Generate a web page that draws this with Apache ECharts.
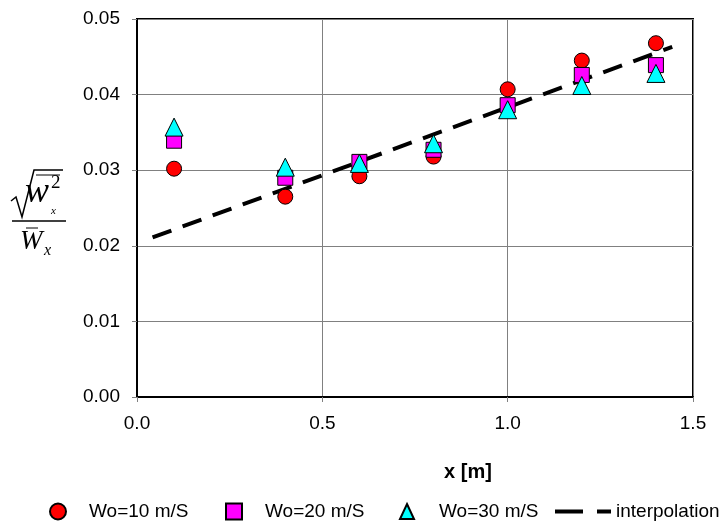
<!DOCTYPE html>
<html><head><meta charset="utf-8">
<script src="https://cdn.jsdelivr.net/npm/echarts@6/dist/echarts.min.js"></script>
<style>html,body{margin:0;padding:0;background:#fff}#c{width:724px;height:525px}</style>
</head><body><div id="c"></div>
<script>
var xPositions = [0.1, 0.4, 0.6, 0.8, 1.0, 1.2, 1.4];
var w10 = [0.0302, 0.0265, 0.0292, 0.0318, 0.0407, 0.0445, 0.0468];
var w20 = [0.0339, 0.0290, 0.0311, 0.0327, 0.0386, 0.0426, 0.0439];
var w30 = [0.0357, 0.0304, 0.0309, 0.0335, 0.0380, 0.0412, 0.0428];
var interpX = [0.042, 1.444];
var interpY = [0.0211, 0.0463];
var xTicks = [0, 0.5, 1.0, 1.5];
var yTicks = [0, 0.01, 0.02, 0.03, 0.04, 0.05];
var names = ['Wo=10 m/S', 'Wo=20 m/S', 'Wo=30 m/S', 'interpolation'];

function pairs(xs, ys){ return xs.map(function(x,i){ return [x, ys[i]]; }); }

var chart = echarts.init(document.getElementById('c'), null, {renderer:'canvas'});
var FF = 'Arial, "Liberation Sans", sans-serif';
var lf = {fontFamily:FF, fontSize:19, color:'#000'};
function leg(name, left, pad, extra){
  var l = {data:[Object.assign({name:name}, extra||{})], left:left, top:502, itemGap:0, selectedMode:false, padding:0,
    textStyle:{fontFamily:FF, fontSize:19, color:'#000', padding:[0,0,0,pad]}, itemWidth:16, itemHeight:16};
  return l;
}
var option = {
  animation:false,
  backgroundColor:'#fff',
  grid:{left:137, right:31, top:19, bottom:128, show:true, borderColor:'#000', borderWidth:2, backgroundColor:'transparent'},
  xAxis:{type:'value', min:xTicks[0], max:xTicks[xTicks.length-1], interval:0.5,
    axisLine:{show:true, onZero:false, lineStyle:{color:'#000', width:2}},
    axisTick:{show:true, length:5, lineStyle:{color:'#808080'}},
    splitLine:{show:true, lineStyle:{color:'#808080', width:1}},
    axisLabel:Object.assign({}, lf, {margin:17, formatter:function(v){return v.toFixed(1);}}),
    name:'x [m]', nameLocation:'middle', nameGap:65,
    nameTextStyle:{fontFamily:FF, fontSize:20, fontWeight:'bold', color:'#000', padding:[0,0,0,106]}
  },
  yAxis:{type:'value', min:yTicks[0], max:yTicks[yTicks.length-1], interval:0.01,
    axisLine:{show:true, onZero:false, lineStyle:{color:'#000', width:2}},
    axisTick:{show:true, length:5, lineStyle:{color:'#808080'}},
    splitLine:{show:true, lineStyle:{color:'#808080', width:1}},
    axisLabel:Object.assign({}, lf, {margin:17, formatter:function(v){return v.toFixed(2);}})
  },
  legend:[
    leg(names[0], 49, 18),
    leg(names[1], 225, 18),
    Object.assign(leg(names[2], 399, 20), {itemWidth:14, itemHeight:15}),
    Object.assign(leg(names[3], 555, 0, {icon:'path://M0,0 h28 v4 h-28 Z M42,0 h14 v4 h-14 Z', itemStyle:{color:'#000', borderWidth:0}}), {itemWidth:56, itemHeight:4})
  ],
  series:[
    {name:names[3], type:'line', data:pairs(interpX, interpY), symbol:'none', z:1,
      lineStyle:{color:'#000', width:4, type:[20,12]}, itemStyle:{color:'#000'}},
    {name:names[0], type:'scatter', data:pairs(xPositions, w10), symbol:'circle', symbolSize:15, z:2,
      itemStyle:{color:'#ff0000', borderColor:'#000', borderWidth:1, opacity:1}},
    {name:names[1], type:'scatter', data:pairs(xPositions, w20), symbol:'rect', symbolSize:15, z:3,
      itemStyle:{color:'#ff00ff', borderColor:'#000', borderWidth:1, opacity:1}},
    {name:names[2], type:'scatter', data:pairs(xPositions, w30), symbol:'triangle', symbolSize:[18,18], z:4,
      itemStyle:{color:'#00ffff', borderColor:'#000', borderWidth:1, opacity:1}}
  ],
  graphic:[
    {type:'polyline', shape:{points:[[11,201],[16,197],[22,217],[34,170],[63,170]]}, style:{stroke:'#000', lineWidth:1.5, fill:null}},
    {type:'line', shape:{x1:36, y1:175, x2:60, y2:175}, style:{stroke:'#000', lineWidth:1}},
    {type:'text', left:25, top:175, style:{text:'w', font:'italic 36px "Liberation Serif", "Times New Roman", serif', fill:'#000'}},
    {type:'text', left:51, top:174, style:{text:'2', font:'19px "Liberation Serif", "Times New Roman", serif', fill:'#000'}},
    {type:'text', left:51, top:206, style:{text:'x', font:'italic 11px "Liberation Serif", "Times New Roman", serif', fill:'#000'}},
    {type:'line', shape:{x1:12, y1:221, x2:66, y2:221}, style:{stroke:'#000', lineWidth:1.5}},
    {type:'line', shape:{x1:26, y1:228, x2:38, y2:228}, style:{stroke:'#000', lineWidth:1}},
    {type:'text', left:20, top:228, style:{text:'W', font:'italic 27px "Liberation Serif", "Times New Roman", serif', fill:'#000'}},
    {type:'text', left:44, top:243, style:{text:'x', font:'italic 16px "Liberation Serif", "Times New Roman", serif', fill:'#000'}}
  ]
};
chart.setOption(option);
</script></body></html>
